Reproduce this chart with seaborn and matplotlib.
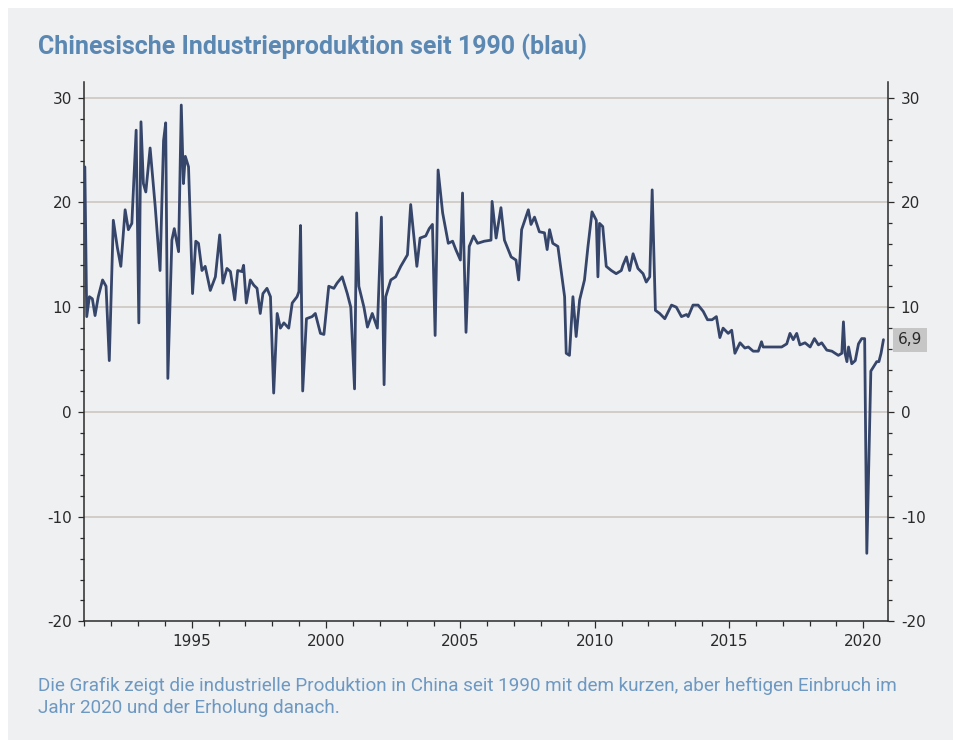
import matplotlib
matplotlib.use("Agg")
import matplotlib.pyplot as plt
import matplotlib.patches as mpatches
from matplotlib.ticker import MultipleLocator
import seaborn as sns

# --- Data ---
years = [
    1991.02, 1991.09, 1991.19, 1991.30, 1991.40, 1991.52, 1991.68, 1991.81, 1991.93,
    1992.08, 1992.23, 1992.36, 1992.52, 1992.64, 1992.77, 1992.93, 1993.03, 1993.11,
    1993.20, 1993.29, 1993.45, 1993.64, 1993.82, 1993.95, 1994.03, 1994.11, 1994.26,
    1994.35, 1994.51, 1994.61, 1994.69, 1994.76, 1994.88, 1995.03, 1995.15, 1995.25,
    1995.38, 1995.50, 1995.69, 1995.88, 1996.04, 1996.16, 1996.31, 1996.44, 1996.60,
    1996.71, 1996.87, 1996.93, 1997.03, 1997.18, 1997.31, 1997.43, 1997.55, 1997.65,
    1997.80, 1997.93, 1998.05, 1998.18, 1998.30, 1998.43, 1998.61, 1998.74, 1998.92,
    1998.99, 1999.05, 1999.13, 1999.27, 1999.48, 1999.60, 1999.79, 1999.92, 2000.10,
    2000.29, 2000.41, 2000.60, 2000.79, 2000.92, 2001.06, 2001.14, 2001.22, 2001.41,
    2001.54, 2001.72, 2001.91, 2002.06, 2002.16, 2002.22, 2002.41, 2002.59, 2002.78,
    2003.03, 2003.15, 2003.38, 2003.50, 2003.71, 2003.84, 2003.96, 2004.06, 2004.17,
    2004.34, 2004.55, 2004.71, 2004.83, 2005.00, 2005.08, 2005.21, 2005.33, 2005.49,
    2005.64, 2005.89, 2006.14, 2006.18, 2006.33, 2006.51, 2006.64, 2006.89, 2007.07,
    2007.17, 2007.28, 2007.53, 2007.63, 2007.76, 2007.94, 2008.13, 2008.23, 2008.32,
    2008.44, 2008.63, 2008.75, 2008.88, 2008.94, 2009.06, 2009.19, 2009.31, 2009.44,
    2009.62, 2009.75, 2009.90, 2010.06, 2010.12, 2010.18, 2010.30, 2010.43, 2010.62,
    2010.80, 2010.99, 2011.05, 2011.18, 2011.30, 2011.43, 2011.61, 2011.80, 2011.92,
    2012.05, 2012.14, 2012.26, 2012.42, 2012.61, 2012.86, 2013.04, 2013.23, 2013.42,
    2013.48, 2013.66, 2013.85, 2014.04, 2014.20, 2014.37, 2014.53, 2014.66, 2014.78,
    2014.97, 2015.10, 2015.22, 2015.41, 2015.59, 2015.72, 2015.90, 2016.09, 2016.21,
    2016.27, 2016.46, 2016.71, 2016.96, 2017.15, 2017.27, 2017.39, 2017.52, 2017.64,
    2017.83, 2018.02, 2018.18, 2018.33, 2018.45, 2018.64, 2018.83, 2019.07, 2019.20,
    2019.26, 2019.32, 2019.39, 2019.45, 2019.57, 2019.70, 2019.82, 2019.94, 2020.05,
    2020.13, 2020.28, 2020.40, 2020.50, 2020.58, 2020.66, 2020.75,
]
production = [
    23.4, 9.1, 11.0, 10.8, 9.2, 11.0, 12.6, 12.0, 4.9,
    18.3, 15.7, 13.9, 19.3, 17.4, 18.0, 26.9, 8.5, 27.7,
    21.8, 21.0, 25.2, 19.6, 13.5, 25.9, 27.6, 3.2, 16.4,
    17.5, 15.3, 29.3, 21.8, 24.4, 23.4, 11.3, 16.3, 16.1,
    13.5, 13.9, 11.6, 12.9, 16.9, 12.3, 13.7, 13.4, 10.7,
    13.5, 13.4, 14.0, 10.4, 12.6, 12.1, 11.8, 9.4, 11.3,
    11.8, 11.0, 1.8, 9.4, 8.0, 8.5, 8.0, 10.4, 11.0,
    11.5, 17.8, 2.0, 8.9, 9.1, 9.4, 7.5, 7.4, 12.0,
    11.8, 12.3, 12.9, 11.3, 10.0, 2.2, 19.0, 12.0, 10.0,
    8.1, 9.4, 8.0, 18.6, 2.6, 11.0, 12.6, 12.9, 13.9,
    15.0, 19.8, 13.9, 16.6, 16.8, 17.5, 17.9, 7.3, 23.1,
    19.0, 16.1, 16.3, 15.5, 14.5, 20.9, 7.6, 15.8, 16.8,
    16.1, 16.3, 16.4, 20.1, 16.6, 19.5, 16.4, 14.8, 14.5,
    12.6, 17.4, 19.3, 17.9, 18.6, 17.2, 17.1, 15.5, 17.4,
    16.1, 15.8, 13.5, 11.0, 5.6, 5.4, 11.0, 7.2, 10.7,
    12.6, 15.8, 19.1, 18.3, 12.9, 18.0, 17.7, 13.9, 13.5,
    13.2, 13.5, 14.0, 14.8, 13.5, 15.1, 13.7, 13.2, 12.4,
    12.9, 21.2, 9.7, 9.4, 8.9, 10.2, 10.0, 9.1, 9.3,
    9.1, 10.2, 10.2, 9.6, 8.8, 8.8, 9.1, 7.1, 8.0,
    7.5, 7.8, 5.6, 6.6, 6.1, 6.2, 5.8, 5.8, 6.7,
    6.2, 6.2, 6.2, 6.2, 6.5, 7.5, 6.9, 7.5, 6.4,
    6.6, 6.2, 7.0, 6.4, 6.6, 5.9, 5.8, 5.4, 5.6,
    8.6, 5.6, 4.8, 6.2, 4.6, 4.9, 6.5, 7.0, 7.0,
    -13.5, 3.9, 4.4, 4.8, 4.8, 5.6, 6.9,
]
y_ticks = [-20, -10, 0, 10, 20, 30]
x_ticks = [1995, 2000, 2005, 2010, 2015, 2020]

title = "Chinesische Industrieproduktion seit 1990 (blau)"
caption = ("Die Grafik zeigt die industrielle Produktion in China seit 1990 mit dem kurzen, aber heftigen Einbruch im\n"
           "Jahr 2020 und der Erholung danach.")

# --- Style ---
sns.set_theme(style="ticks")
plt.rcParams["font.family"] = ["DejaVu Sans"]
plt.rcParams["axes.unicode_minus"] = False

panel_color = "#eff0f2"
line_color = "#36456a"
grid_color = "#cbc3bf"
tick_color = "#2a2a2a"

fig = plt.figure(figsize=(9.54, 7.40), dpi=100)
fig.patch.set_facecolor("white")
fig.patches.append(mpatches.Rectangle((8 / 954, 0), 1 - 8 / 954, 1 - 8 / 740,
                                      transform=fig.transFigure, facecolor=panel_color,
                                      edgecolor="none", zorder=-1))

ax = fig.add_axes([84.3 / 954, 1 - 621.4 / 740, (888.3 - 84.3) / 954, (621.4 - 82) / 740])
ax.set_facecolor("none")

sns.lineplot(x=years, y=production, ax=ax, color=line_color, linewidth=2.0,
             estimator=None, sort=False, zorder=3)

ax.set_xlim(1991.0, 2020.93)
ax.set_ylim(-20, 31.5)
ax.set_xticks(x_ticks)
ax.set_yticks(y_ticks)
ax.xaxis.set_minor_locator(MultipleLocator(1))
ax.yaxis.set_minor_locator(MultipleLocator(2))

for y in y_ticks[1:]:
    ax.axhline(y, color=grid_color, linewidth=1.1, zorder=1)

for side in ["left", "right", "bottom"]:
    ax.spines[side].set_color(tick_color)
    ax.spines[side].set_linewidth(1.1)
ax.spines["top"].set_visible(False)

ax.tick_params(axis="y", which="both", left=True, right=True, labelleft=True, labelright=True,
               colors=tick_color, labelsize=11, width=0.9)
ax.tick_params(axis="y", which="major", length=4, pad=5)
ax.tick_params(axis="y", which="minor", length=3)
ax.tick_params(axis="x", which="major", length=5, pad=4, colors=tick_color, labelsize=11, width=0.9)
ax.tick_params(axis="x", which="minor", length=3.5, colors=tick_color, width=0.9)
ax.set_xlabel("")
ax.set_ylabel("")

# last value label on the right axis
last_label = f"{production[-1]:.1f}".replace(".", ",")
ax.annotate(last_label, xy=(1.0, production[-1]), xycoords=("axes fraction", "data"),
            xytext=(7, 0), textcoords="offset points", ha="left", va="center",
            fontsize=11, color=tick_color,
            bbox=dict(boxstyle="square,pad=0.3", facecolor="#c6c6c6", edgecolor="none"))

fig.text(38 / 954, 1 - 47 / 740, title, ha="left", va="center", fontsize=18,
         fontweight="bold", color="#5b88b2", family=["Roboto", "DejaVu Sans"])
fig.text(38 / 954, 1 - 697 / 740, caption, ha="left", va="center", fontsize=13.6,
         color="#6d98c2", linespacing=1.25,
         family=["Roboto", "DejaVu Sans"])

fig.savefig("out.png", dpi=100, facecolor=fig.get_facecolor())
